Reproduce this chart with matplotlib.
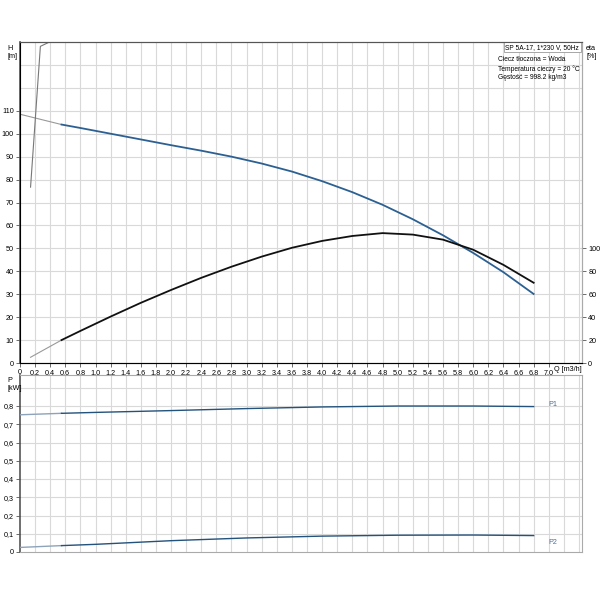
import matplotlib
matplotlib.use('Agg')
from matplotlib import pyplot as plt
import numpy as np

plt.rcParams['font.family'] = ['Liberation Sans', 'DejaVu Sans']

# pump head H [m]
q_h = [0.55, 0.8, 1.2, 1.6, 2.0, 2.4, 2.8, 3.2, 3.6, 4.0, 4.4, 4.8, 5.2, 5.6, 6.0, 6.4, 6.8]
h = [104.0, 102.5, 100.0, 97.5, 95.0, 92.6, 90.0, 87.0, 83.5, 79.3, 74.5, 69.0, 62.7, 55.7, 48.0, 39.6, 30.1]
q_h_ext = [0.0, 0.55]
h_ext = [108.5, 104.0]

# efficiency eta [%]
q_eta = [0.55, 0.8, 1.2, 1.6, 2.0, 2.4, 2.8, 3.2, 3.6, 4.0, 4.4, 4.8, 5.2, 5.6, 6.0, 6.4, 6.8]
eta = [20, 28, 40.5, 52.5, 63.7, 74.3, 84, 92.8, 100.5, 106.5, 110.8, 113.3, 112.0, 107.6, 98.8, 85.6, 70]
q_eta_ext = [0.14, 0.55]
eta_ext = [5, 20]

# steep grey line at left edge (H scale)
q_steep = [0.14, 0.27, 0.41, 0.6]
h_steep = [76.7, 138.1, 140.3, 141.0]

# power [kW]
q_p = [0.55, 1.0, 2.0, 3.0, 4.0, 5.0, 6.0, 6.8]
p1 = [0.76, 0.765, 0.775, 0.786, 0.795, 0.80, 0.80, 0.797]
p2 = [0.035, 0.042, 0.062, 0.077, 0.087, 0.092, 0.093, 0.090]
q_p_ext = [0.0, 0.55]
p1_ext = [0.752, 0.76]
p2_ext = [0.025, 0.035]

xticks = np.round(np.arange(0, 7.01, 0.2), 1)
xlabels = ['0'] + [f'{v:.1f}'.replace('.', ',') for v in xticks[1:]]

fs = 5.2
fs_info = 4.8
grid_c = '#d9d9d9'
blue = '#2c6092'
dark = '#555555'

fig = plt.figure(figsize=(6, 6), dpi=100)
ax = fig.add_axes([0.0333, 0.395, 0.9367, 0.535])
axp = fig.add_axes([0.0333, 0.08, 0.9367, 0.295])

xmax = 7.44
for a in (ax, axp):
    a.set_xlim(0, xmax)
    for xv in np.arange(0.2, xmax, 0.2):
        a.axvline(xv, color=grid_c, lw=0.8, zorder=0)
    a.spines['right'].set_color('#aaaaaa')
    a.spines['left'].set_color(dark)
    a.spines['left'].set_linewidth(1.2)

# top chart
ax.set_ylim(0, 140)
for yv in range(10, 140, 10):
    ax.axhline(yv, color=grid_c, lw=0.8, zorder=0)
ax.spines['top'].set_color(dark)
ax.spines['bottom'].set_color(dark)
ax.set_yticks(range(0, 111, 10))
ax.set_yticklabels([str(v) for v in range(0, 111, 10)])
ax.set_xticks(xticks)
ax.set_xticklabels(xlabels)
ax.tick_params(axis='both', labelsize=fs, length=3, width=0.6, color=dark, pad=1.5)

ax.plot(q_h_ext, h_ext, color='#999999', lw=0.8, zorder=2)
ax.plot(q_steep, h_steep, color='#777777', lw=0.8, zorder=2)
ax.plot(q_h, h, color=blue, lw=1.3, zorder=3)
ax2 = ax.twinx()
ax2.set_ylim(0, 280)
ax2.set_yticks(range(0, 101, 20))
ax2.tick_params(axis='y', labelsize=fs, length=3, width=0.6, color=dark, pad=1.5)
ax2.spines['right'].set_color('#aaaaaa')
ax2.spines['top'].set_color(dark)
ax2.plot(q_eta_ext, eta_ext, color='#999999', lw=0.8, zorder=2)
ax2.plot(q_eta, eta, color='#111111', lw=1.3, zorder=3)

ax.text(7.07, -1.5, 'Q [m3/h]', fontsize=fs, ha='left', va='top', clip_on=False)
fig.text(0.012, 0.925, 'H\n[m]', fontsize=fs, ha='left', va='top', linespacing=1.3)
fig.text(0.977, 0.925, 'eta\n[%]', fontsize=fs, ha='left', va='top', linespacing=1.3)
ax.text(0.995, 0.995, 'SP 5A-17, 1*230 V, 50Hz', transform=ax.transAxes, fontsize=fs_info,
        ha='right', va='top', bbox=dict(facecolor='white', edgecolor='#999999', lw=0.6, pad=1.2))
ax.text(0.851, 0.955, 'Ciecz tłoczona = Woda\nTemperatura cieczy = 20 °C\nGęstość = 998.2 kg/m3',
        transform=ax.transAxes, fontsize=fs_info, ha='left', va='top', linespacing=1.3)

# power chart
axp.set_ylim(0, 0.97)
for yv in np.arange(0.1, 0.95, 0.1):
    axp.axhline(yv, color=grid_c, lw=0.8, zorder=0)
axp.spines['top'].set_color('#aaaaaa')
axp.spines['bottom'].set_color('#aaaaaa')
axp.set_yticks(np.arange(0, 0.81, 0.1))
axp.set_yticklabels(['0'] + [f'{v:.1f}'.replace('.', ',') for v in np.arange(0.1, 0.81, 0.1)])
axp.set_xticks([])
axp.tick_params(axis='y', labelsize=fs, length=3, width=0.6, color=dark, pad=1.5)
axp.plot(q_p_ext, p1_ext, color='#8ea3ba', lw=1.0, zorder=3)
axp.plot(q_p_ext, p2_ext, color='#8ea3ba', lw=1.0, zorder=3)
axp.plot(q_p, p1, color='#23527c', lw=1.0, zorder=3)
axp.plot(q_p, p2, color='#23527c', lw=1.0, zorder=3)
axp.text(7.0, p1[-1] + 0.01, 'P1', fontsize=fs, color='#4a6fa0', ha='left', va='center')
axp.text(7.0, p2[-1] - 0.04, 'P2', fontsize=fs, color='#4a6fa0', ha='left', va='center')
fig.text(0.012, 0.372, 'P\n[kW]', fontsize=fs, ha='left', va='top', linespacing=1.3)

fig.savefig('out.png', dpi=100)
